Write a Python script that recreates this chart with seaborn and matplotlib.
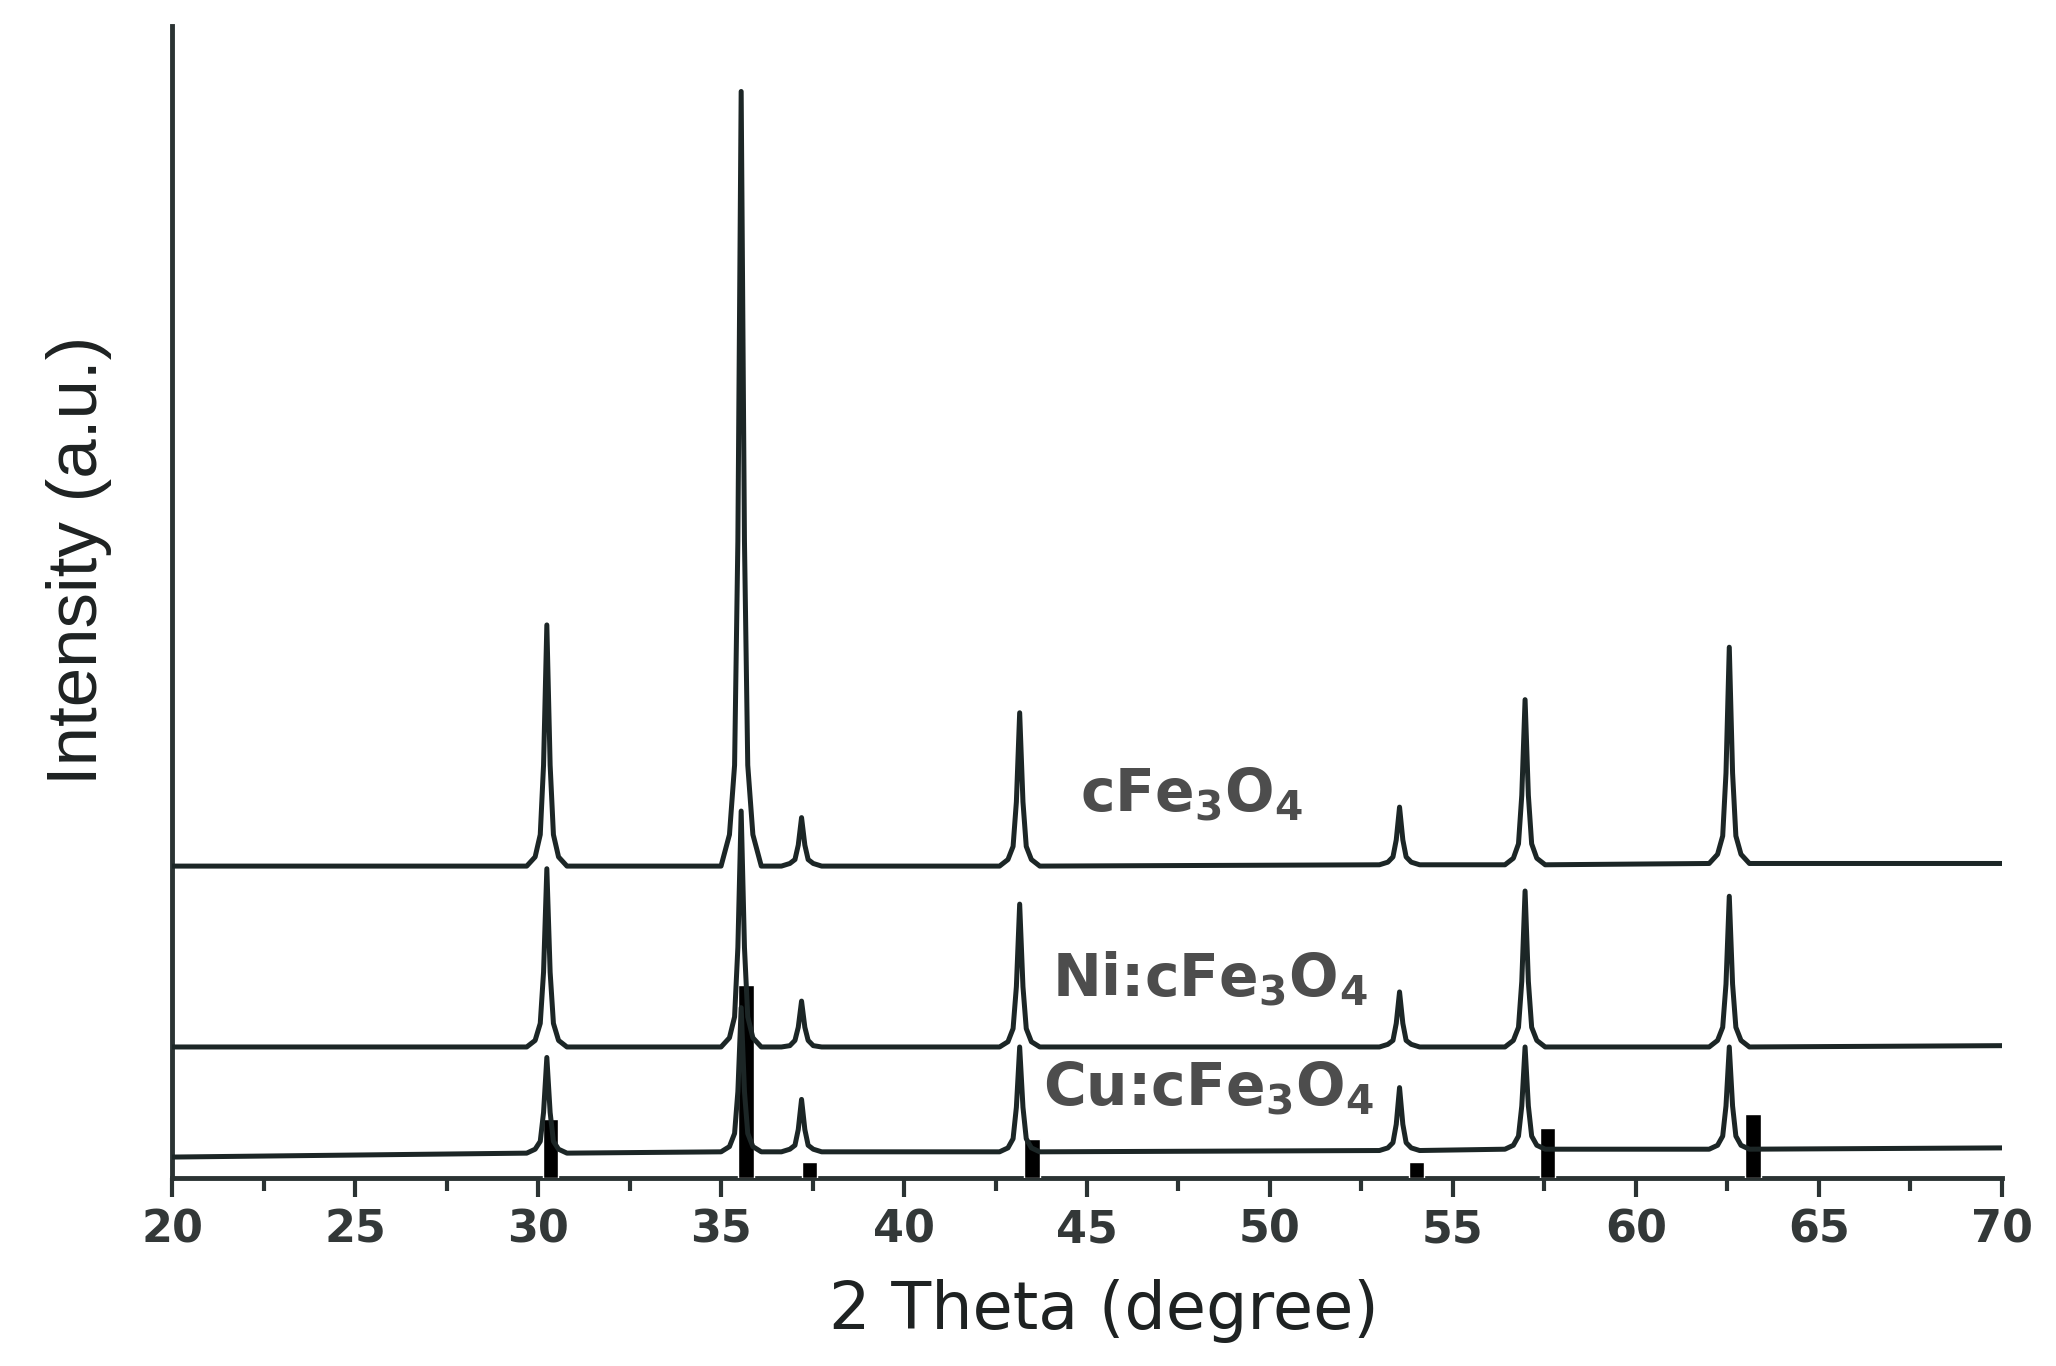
import numpy as np
import pandas as pd
import seaborn as sns
import matplotlib.pyplot as plt
from matplotlib.ticker import MultipleLocator

# 2 theta grid (deg): start, 9 points around each of the 7 reflections, end
two_theta = [20.0,
             29.69, 29.92, 30.06, 30.15, 30.24, 30.33, 30.42, 30.56, 30.79,
             35.00, 35.23, 35.37, 35.46, 35.55, 35.64, 35.73, 35.87, 36.10,
             36.65, 36.88, 37.02, 37.11, 37.20, 37.29, 37.38, 37.52, 37.75,
             42.61, 42.84, 42.98, 43.07, 43.16, 43.25, 43.34, 43.48, 43.71,
             52.99, 53.22, 53.36, 53.45, 53.54, 53.63, 53.72, 53.86, 54.09,
             56.42, 56.65, 56.79, 56.88, 56.97, 57.06, 57.15, 57.29, 57.52,
             62.00, 62.23, 62.37, 62.46, 62.55, 62.64, 62.73, 62.87, 63.10,
             70.0]

# intensities (a.u., stacked offsets included)
int_cfe = [238,
           238, 245, 262, 315, 422, 315, 262, 245, 238,
           238, 262, 315, 486, 829, 486, 315, 262, 238,
           238, 240, 243, 254, 275, 254, 243, 240, 238,
           238, 243, 253, 287, 355, 287, 253, 243, 238,
           239, 241, 245, 258, 283, 258, 245, 241, 239,
           239, 244, 255, 292, 365, 292, 255, 244, 239,
           240, 247, 261, 309, 405, 309, 261, 247, 240,
           240]

int_ni = [100,
          100, 105, 118, 157, 236, 157, 118, 105, 100,
          100, 107, 123, 176, 280, 176, 123, 107, 100,
          100, 101, 105, 115, 135, 115, 105, 101, 100,
          100, 104, 114, 146, 209, 146, 114, 104, 100,
          100, 102, 105, 118, 142, 118, 105, 102, 100,
          100, 105, 115, 150, 219, 150, 115, 105, 100,
          100, 105, 115, 148, 215, 148, 115, 105, 100,
          101]

int_cu = [16,
          19, 22, 28, 50, 92, 50, 28, 22, 19,
          20, 24, 34, 66, 130, 66, 34, 24, 20,
          20, 22, 25, 37, 60, 37, 25, 22, 20,
          20, 23, 30, 54, 100, 54, 30, 23, 20,
          21, 23, 27, 41, 69, 41, 27, 23, 21,
          22, 25, 32, 55, 100, 55, 32, 25, 22,
          22, 25, 32, 55, 100, 55, 32, 25, 22,
          23]

# reference pattern sticks
ref_pos = [30.34, 35.68, 37.42, 43.5, 54.0, 57.58, 63.2]
ref_int = [45, 147, 12, 30, 12, 38, 49]

labels = [r'cFe$_\mathbf{3}$O$_\mathbf{4}$',
          r'Ni:cFe$_\mathbf{3}$O$_\mathbf{4}$',
          r'Cu:cFe$_\mathbf{3}$O$_\mathbf{4}$']
label_x = [44.8, 44.05, 43.8]
label_y = [280, 139, 56]

df = pd.DataFrame({'two_theta': two_theta, 'cFe3O4': int_cfe,
                   'Ni:cFe3O4': int_ni, 'Cu:cFe3O4': int_cu})

sns.set_theme(style='ticks')
plt.rcParams['font.family'] = ['DejaVu Sans']
plt.rcParams['mathtext.fontset'] = 'dejavusans'

line_col = '#1c2626'
fig = plt.figure(figsize=(20.56, 13.66), dpi=100)
ax = fig.add_axes([0.0837, 0.1376, 0.89, 0.8434])

ax.bar(ref_pos, ref_int, width=0.42, color='black', zorder=3)
for col in ['cFe3O4', 'Ni:cFe3O4', 'Cu:cFe3O4']:
    sns.lineplot(data=df, x='two_theta', y=col, color=line_col, linewidth=3.6,
                 estimator=None, sort=False, ax=ax, zorder=4,
                 solid_joinstyle='round')

for txt, x, y in zip(labels, label_x, label_y):
    ax.text(x, y, txt, fontsize=42, fontweight='bold', color='#4d4d4d',
            ha='left', va='baseline')

ax.set_xlim(20, 70)
ax.set_ylim(0, 879)
ax.set_xticks(range(20, 71, 5))
ax.xaxis.set_minor_locator(MultipleLocator(2.5))
ax.set_yticks([])
ax.tick_params(axis='x', which='major', length=14, width=3, direction='out',
               pad=8, labelsize=32, colors='#2b3333')
ax.tick_params(axis='x', which='minor', length=9, width=3, direction='out',
               colors='#2b3333')
for t in ax.get_xticklabels():
    t.set_fontweight('bold')
    t.set_color('#333838')

sns.despine(ax=ax)
for s in ['left', 'bottom']:
    ax.spines[s].set_linewidth(3.5)
    ax.spines[s].set_color('#2b3333')

ax.set_xlabel('2 Theta (degree)', fontsize=47, color='#1e2222')
ax.set_ylabel('Intensity (a.u.)', fontsize=51, color='#1e2222',
              family=['Liberation Sans', 'DejaVu Sans'])
ax.xaxis.set_label_coords(0.509, -0.088)
ax.yaxis.set_label_coords(-0.033, 0.536)

fig.savefig('out.png', dpi=100)
